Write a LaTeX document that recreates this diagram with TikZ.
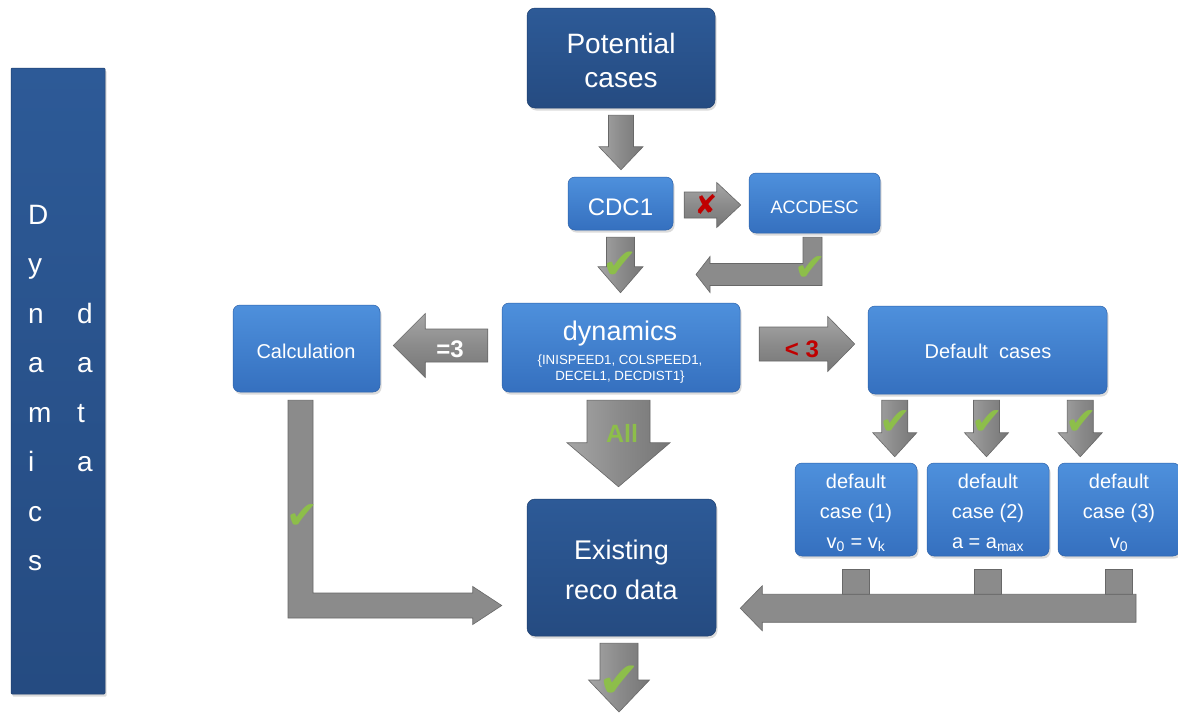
\documentclass[tikz,border=0pt]{standalone}
\usepackage{fontspec}
\setmainfont{Liberation Sans}
\newfontfamily\symfont{DejaVu Sans}
\usetikzlibrary{calc,shadows}

\definecolor{navytop}{HTML}{2D5A97}
\definecolor{navybot}{HTML}{254B81}
\definecolor{navyedge}{HTML}{1E3F6E}
\definecolor{azuretop}{HTML}{4E90DC}
\definecolor{azurebot}{HTML}{3570BF}
\definecolor{azureedge}{HTML}{2D62AA}
\definecolor{steel}{HTML}{8B8B8B}
\definecolor{steellight}{HTML}{A6A6A6}
\definecolor{steeldark}{HTML}{767676}
\definecolor{steeledge}{HTML}{686868}
\definecolor{tick}{HTML}{8DBE4A}
\definecolor{alarm}{HTML}{C00000}

\newcommand\myfs[1]{\fontsize{#1}{#1}\selectfont}

% block arrows: #1 tail point, #2 tip point, #3 half shaft width,
% #4 half head width, #5 head length, #6 style
\newcommand\blockdown[6]{%
  \path[#6] let \p1=(#1), \p2=(#2) in
    (\x1-#3pt,\y1) -- (\x1+#3pt,\y1) -- (\x1+#3pt,\y2+#5pt) -- (\x1+#4pt,\y2+#5pt)
    -- (\x1,\y2) -- (\x1-#4pt,\y2+#5pt) -- (\x1-#3pt,\y2+#5pt) -- cycle;}
\newcommand\blockright[6]{%
  \path[#6] let \p1=(#1), \p2=(#2) in
    (\x1,\y1+#3pt) -- (\x2-#5pt,\y1+#3pt) -- (\x2-#5pt,\y1+#4pt) -- (\x2,\y1)
    -- (\x2-#5pt,\y1-#4pt) -- (\x2-#5pt,\y1-#3pt) -- (\x1,\y1-#3pt) -- cycle;}
\newcommand\blockleft[6]{%
  \path[#6] let \p1=(#1), \p2=(#2) in
    (\x1,\y1+#3pt) -- (\x2+#5pt,\y1+#3pt) -- (\x2+#5pt,\y1+#4pt) -- (\x2,\y1)
    -- (\x2+#5pt,\y1-#4pt) -- (\x2+#5pt,\y1-#3pt) -- (\x1,\y1-#3pt) -- cycle;}

\tikzset{
  boxshadow/.style={drop shadow={opacity=0.28, shadow xshift=1.5pt, shadow yshift=-2.5pt}},
  darkbox/.style={rounded corners=8pt, draw=navyedge, line width=0.5pt,
    top color=navytop, bottom color=navybot, inner sep=0pt, boxshadow},
  bluebox/.style={rounded corners=7pt, draw=azureedge, line width=0.5pt,
    top color=azuretop, bottom color=azurebot, inner sep=0pt, boxshadow},
  boxsize/.style 2 args={minimum width=#1pt, minimum height=#2pt},
  wtext/.style={text=white, inner sep=0pt, anchor=base},
  vshaft/.style={draw=steeledge, line width=0.6pt, left color=steellight, right color=steeldark, middle color=steel},
  hshaft/.style={draw=steeledge, line width=0.6pt, top color=steellight, bottom color=steeldark, middle color=steel},
  flatarrow/.style={draw=steeledge, line width=0.6pt, fill=steel},
  tickmark/.style={text=tick, inner sep=0pt},
}

\begin{document}
\begin{tikzpicture}[x=1pt, y=-1pt]
  \useasboundingbox (0,0) rectangle (1178,713);
  \fill[white] (0,0) rectangle (1178,713);

  % ---- side banner ----
  \node[darkbox, rounded corners=1pt, boxsize={94}{626}] (side) at (58,381) {};
  \foreach \ch [count=\i from 0] in {D,y,n,a,m,i,c,s}
    \node[wtext, anchor=base west, font=\myfs{28}] (side-a\i) at (28,{224+49.5*\i}) {\ch};
  \foreach \ch [count=\i from 2] in {d,a,t,a}
    \node[wtext, anchor=base west, font=\myfs{28}] (side-b\i) at (77,{224+49.5*\i}) {\ch};

  % ---- boxes ----
  \node[darkbox, boxsize={188}{100}] (pc)   at (621,58)    {};
  \node[bluebox, boxsize={105}{53}]  (cdc)  at (620.5,203.5) {};
  \node[bluebox, boxsize={131}{60}]  (acc)  at (814.5,203) {};
  \node[bluebox, boxsize={238}{89}]  (dyn)  at (621,347.5) {};
  \node[bluebox, boxsize={147}{87}]  (calc) at (306.5,348.5) {};
  \node[bluebox, boxsize={239}{88}]  (dc)   at (987.5,350) {};
  \node[bluebox, boxsize={122}{93}]  (d1)   at (856,509.5) {};
  \node[bluebox, boxsize={122}{93}]  (d2)   at (988,509.5) {};
  \node[bluebox, boxsize={122}{93}]  (d3)   at (1119,509.5) {};
  \node[darkbox, boxsize={189}{137}] (ex)   at (621.5,567.5) {};

  % free ends of connectors
  \coordinate (accin)  at (696,274.5);
  \coordinate (calcin) at ($(ex.west)+(-25,38)$);
  \coordinate (sink)   at (619,712);

  % ---- straight block arrows ----
  \blockdown{$(pc.south)+(0,7)$}{$(cdc.north)+(0,-7)$}{12.5}{22}{23}{vshaft}
  \blockdown{$(cdc.south)+(0,7)$}{$(dyn.north)+(0,-10)$}{14}{22.5}{26}{vshaft}
  \blockright{$(cdc.east)+(11,1.5)$}{$(acc.west)+(-8,0)$}{13}{22.5}{24}{hshaft}
  \blockleft{$(dyn.west)+(-14,-2)$}{$(calc.east)+(13,0)$}{16.5}{32}{32}{hshaft}
  \blockright{$(dyn.east)+(19,-3.5)$}{$(dc.west)+(-13,0)$}{17}{27.5}{27}{hshaft}
  \blockdown{$(dyn.south)+(-2.5,8)$}{$(ex.north)+(0,-12)$}{31.5}{51.5}{44}{vshaft}
  \blockdown{$(dc.south west)+(27,6)$}{$(d1.north)+(0,-6)$}{13}{22}{24}{vshaft}
  \blockdown{$(dc.south)+(-1,6)$}{$(d2.north)+(0,-6)$}{13}{22}{24}{vshaft}
  \blockdown{$(dc.south east)+(-27,6)$}{$(d3.north)+(0,-6)$}{13}{22}{24}{vshaft}
  \blockdown{$(ex.south)+(-2.5,7)$}{sink}{19}{30.5}{32}{vshaft}

  % ---- elbow arrow from ACCDESC back to the main line ----
  \path[flatarrow] let \p1=($(acc.south)+(-2,4)$), \p2=(accin) in
    (\x1-9.5pt,\y1) -- (\x1+9.5pt,\y1) -- (\x1+9.5pt,\y2-11pt) -- (\x2+14pt,\y2-11pt)
    -- (\x2+14pt,\y2-18pt) -- (\x2,\y2) -- (\x2+14pt,\y2+18pt) -- (\x2+14pt,\y2+11pt)
    -- (\x1-9.5pt,\y2+11pt) -- cycle;

  % ---- elbow arrow from Calculation to Existing reco data ----
  \path[flatarrow] let \p1=($(calc.south)+(-6,8)$), \p2=(calcin) in
    (\x1-12.5pt,\y1) -- (\x1+12.5pt,\y1) -- (\x1+12.5pt,\y2+12.5pt) -- (\x2-29pt,\y2+12.5pt)
    -- (\x2-29pt,\y2+19pt) -- (\x2,\y2) -- (\x2-29pt,\y2-19pt) -- (\x2-29pt,\y2-12.5pt)
    -- (\x1-12.5pt,\y2-12.5pt) -- cycle;

  % ---- collecting bus from the default cases ----
  \foreach \b in {d1,d2,d3}
    \path[flatarrow] let \p1=(\b.south) in
      (\x1-13.5pt,\y1-13pt) rectangle (\x1+13.5pt,\y1-38.5pt);
  \blockleft{$(d3.south)+(17,52)$}{$(ex.east)+(24,0)$}{14}{22.5}{22}{flatarrow}

  % ---- texts ----
  \node[wtext, font=\myfs{28}] (pc-a) at (621,53) {Potential};
  \node[wtext, font=\myfs{28}] (pc-b) at (621,87) {cases};
  \node[wtext, font=\myfs{24}] (cdc-t) at (620.5,215) {CDC1};
  \node[wtext, font=\myfs{18}] (acc-t) at (814.5,213) {ACCDESC};
  \node[wtext, font=\myfs{27}] (dyn-a) at (620,340) {dynamics};
  \node[wtext, font=\myfs{13.3}] (dyn-b) at (620,364) {\{INISPEED1, COLSPEED1,};
  \node[wtext, font=\myfs{13.3}] (dyn-c) at (620,380) {DECEL1, DECDIST1\}};
  \node[wtext, font=\myfs{20}] (calc-t) at (306,358) {Calculation};
  \node[wtext, font=\myfs{20}] (dc-t) at (988,358) {Default\ \ cases};
  \node[wtext, font=\myfs{20}] (d1-a) at (856,488) {default};
  \node[wtext, font=\myfs{20}] (d1-b) at (856,518) {case (1)};
  \node[wtext, font=\myfs{20}] (d1-c) at (856,548) {v\textsubscript{0} = v\textsubscript{k}};
  \node[wtext, font=\myfs{20}] (d2-a) at (988,488) {default};
  \node[wtext, font=\myfs{20}] (d2-b) at (988,518) {case (2)};
  \node[wtext, font=\myfs{20}] (d2-c) at (988,548) {a = a\textsubscript{max}};
  \node[wtext, font=\myfs{20}] (d3-a) at (1119,488) {default};
  \node[wtext, font=\myfs{20}] (d3-b) at (1119,518) {case (3)};
  \node[wtext, font=\myfs{20}] (d3-c) at (1119,548) {v\textsubscript{0}};
  \node[wtext, font=\myfs{27}] (ex-a) at (621.5,559) {Existing};
  \node[wtext, font=\myfs{27}] (ex-b) at (621.5,599) {reco data};

  % ---- arrow labels ----
  \node[wtext, font=\myfs{24}\bfseries] (eq3) at (450,357) {=3};
  \node[wtext, text=alarm, font=\myfs{24}\bfseries] (lt3) at (802,357) {< 3};
  \node[wtext, text=tick, font=\myfs{25}\bfseries] (all) at (622,442) {All};
  \node[inner sep=0pt, text=alarm, font=\symfont\myfs{27}] (nox) at (706,205) {✘};
  \node[tickmark, font=\symfont\myfs{42}] (ok1) at (620,265) {✔};
  \node[tickmark, font=\symfont\myfs{38}] (ok2) at (810,269) {✔};
  \node[tickmark, font=\symfont\myfs{38}] (ok3) at (895.5,423) {✔};
  \node[tickmark, font=\symfont\myfs{38}] (ok4) at (987.5,423) {✔};
  \node[tickmark, font=\symfont\myfs{38}] (ok5) at (1081,423) {✔};
  \node[tickmark, font=\symfont\myfs{38}] (ok6) at (302,517) {✔};
  \node[tickmark, font=\symfont\myfs{50}] (ok7) at (619.5,682) {✔};
\end{tikzpicture}
\end{document}
